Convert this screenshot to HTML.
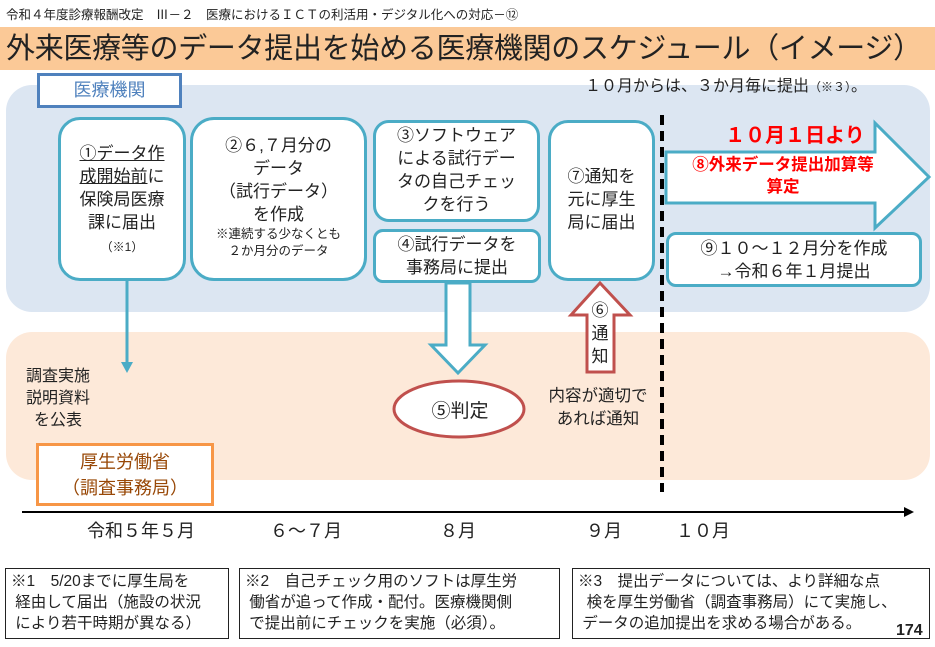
<!DOCTYPE html>
<html><head><meta charset="utf-8"><style>
body{margin:0;width:935px;height:647px;position:relative;background:#fff;overflow:hidden;font-family:"Liberation Sans","Noto Sans CJK JP",sans-serif;color:#222}
.a{position:absolute}
.box{position:absolute;background:#fff;border:3px solid #4bacc6;box-sizing:border-box;text-align:center;font-size:17px;line-height:23px}
.note{position:absolute;border:1.5px solid #222;box-sizing:border-box;font-size:15.5px;line-height:21px;padding:2px 5px;top:568px;height:71px;white-space:nowrap}
.m{position:absolute;top:517px;font-size:18px;text-align:center}
</style></head><body>
<div class="a" style="left:6px;top:4px;font-size:12.5px">令和４年度診療報酬改定　Ⅲ－２　医療におけるＩＣＴの利活用・デジタル化への対応－⑫</div>
<div class="a" style="left:0;top:27px;width:935px;height:43px;background:#fbc997"></div>
<div class="a" style="left:6px;top:29px;font-size:29px;line-height:40px;white-space:nowrap;letter-spacing:-0.3px">外来医療等のデータ提出を始める医療機関のスケジュール（イメージ）</div>
<div class="a" style="left:6px;top:85px;width:924px;height:227px;background:#dce6f2;border-radius:26px"></div>
<div class="a" style="left:6px;top:332px;width:924px;height:148px;background:#fde9d9;border-radius:26px"></div>
<div class="a" style="left:37px;top:73px;width:145px;height:35px;border:3px solid #4f81bd;box-sizing:border-box;background:#fff;color:#4f81bd;font-size:18px;text-align:center;line-height:29px">医療機関</div>
<div class="a" style="left:585px;top:72px;font-size:16px;white-space:nowrap">１０月からは、３か月毎に提出<span style="font-size:12px">（※３）</span>。</div>

<div class="box" style="left:58px;top:117px;width:128px;height:164px;border-radius:22px;padding-top:22px"><span style="text-decoration:underline">①データ作<br>成開始前</span>に<br>保険局医療<br>課に届出<br><span style="font-size:12px">（※1）</span></div>
<div class="box" style="left:190px;top:117px;width:177px;height:164px;border-radius:24px;padding-top:14px">②６,７月分の<br>データ<br>（試行データ）<br>を作成<br><span style="font-size:12.5px;line-height:17px;display:block">※連続する少なくとも<br>２か月分のデータ</span></div>
<div class="box" style="left:373px;top:120px;width:167px;height:102px;border-radius:16px;padding-top:1px">③ソフトウェア<br>による試行デー<br>タの自己チェッ<br>クを行う</div>
<div class="box" style="left:373px;top:229px;width:168px;height:54px;border-radius:10px;padding-top:1px">④試行データを<br>事務局に提出</div>
<div class="box" style="left:548px;top:120px;width:107px;height:161px;border-radius:20px;padding-top:42px">⑦通知を<br>元に厚生<br>局に届出</div>
<div class="box" style="left:666px;top:232px;width:256px;height:55px;border-radius:10px;padding-top:2px">⑨１０～１２月分を作成<br>→令和６年１月提出</div>

<svg class="a" style="left:0;top:0" width="935" height="647">
<line x1="662" y1="115" x2="662" y2="492" stroke="#000" stroke-width="4" stroke-dasharray="10,6"/>
<polygon points="666,152 875,152 875,123 929,177 875,228 875,203 666,203" fill="#fff" stroke="#4bacc6" stroke-width="3"/>
<line x1="127" y1="281" x2="127" y2="366" stroke="#4bacc6" stroke-width="3"/>
<polygon points="121,362 133,362 127,373" fill="#4bacc6"/>
<polygon points="446,283 470,283 470,345 485,345 458,373 431,345 446,345" fill="#fff" stroke="#4bacc6" stroke-width="3"/>
<polygon points="600,283 630,315 614,315 614,372 587,372 587,315 571,315" fill="#fff" stroke="#c0504d" stroke-width="3"/>
<ellipse cx="459" cy="409" rx="65" ry="28" fill="#fff" stroke="#c0504d" stroke-width="3"/>
<line x1="22" y1="512" x2="908" y2="512" stroke="#000" stroke-width="2"/>
<polygon points="904,507 914,512 904,517" fill="#000"/>
</svg>
<div class="a" style="left:700px;top:119px;width:190px;text-align:center;color:#f00;font-weight:bold;font-size:20px">１０月１日より</div>
<div class="a" style="left:672px;top:154px;width:222px;text-align:center;color:#f00;font-weight:bold;font-size:16.5px;line-height:22px">⑧外来データ提出加算等<br>算定</div>
<div class="a" style="left:588px;top:299px;width:24px;text-align:center;font-size:17px;line-height:23px">⑥<br>通<br>知</div>
<div class="a" style="left:425px;top:396px;width:70px;text-align:center;font-size:19px">⑤判定</div>
<div class="a" style="left:538px;top:385px;width:120px;text-align:center;font-size:16.5px;line-height:23px">内容が適切で<br>あれば通知</div>
<div class="a" style="left:16px;top:366px;width:84px;text-align:center;font-size:16px;line-height:22px">調査実施<br>説明資料<br>を公表</div>
<div class="a" style="left:36px;top:443px;width:178px;height:63px;border:3px solid #f79646;box-sizing:border-box;background:#fff;color:#984807;font-size:18px;line-height:26px;text-align:center;padding-top:3px">厚生労働省<br>（調査事務局）</div>

<div class="m" style="left:71px;width:140px">令和５年５月</div>
<div class="m" style="left:256px;width:100px">６～７月</div>
<div class="m" style="left:418px;width:80px">８月</div>
<div class="m" style="left:574px;width:60px">９月</div>
<div class="m" style="left:663px;width:80px">１０月</div>

<div class="note" style="left:5px;width:224px">※1　5/20までに厚生局を<br>&nbsp;経由して届出（施設の状況<br>&nbsp;により若干時期が異なる）</div>
<div class="note" style="left:239px;width:321px">※2　自己チェック用のソフトは厚生労<br>&nbsp;働省が追って作成・配付。医療機関側<br>&nbsp;で提出前にチェックを実施（必須）。</div>
<div class="note" style="left:572px;width:358px">※3　提出データについては、より詳細な点<br>&nbsp;&nbsp;検を厚生労働省（調査事務局）にて実施し、<br>&nbsp;データの追加提出を求める場合がある。</div>
<div class="a" style="left:896px;top:622px;font-weight:bold;font-size:16px">174</div>
</body></html>
